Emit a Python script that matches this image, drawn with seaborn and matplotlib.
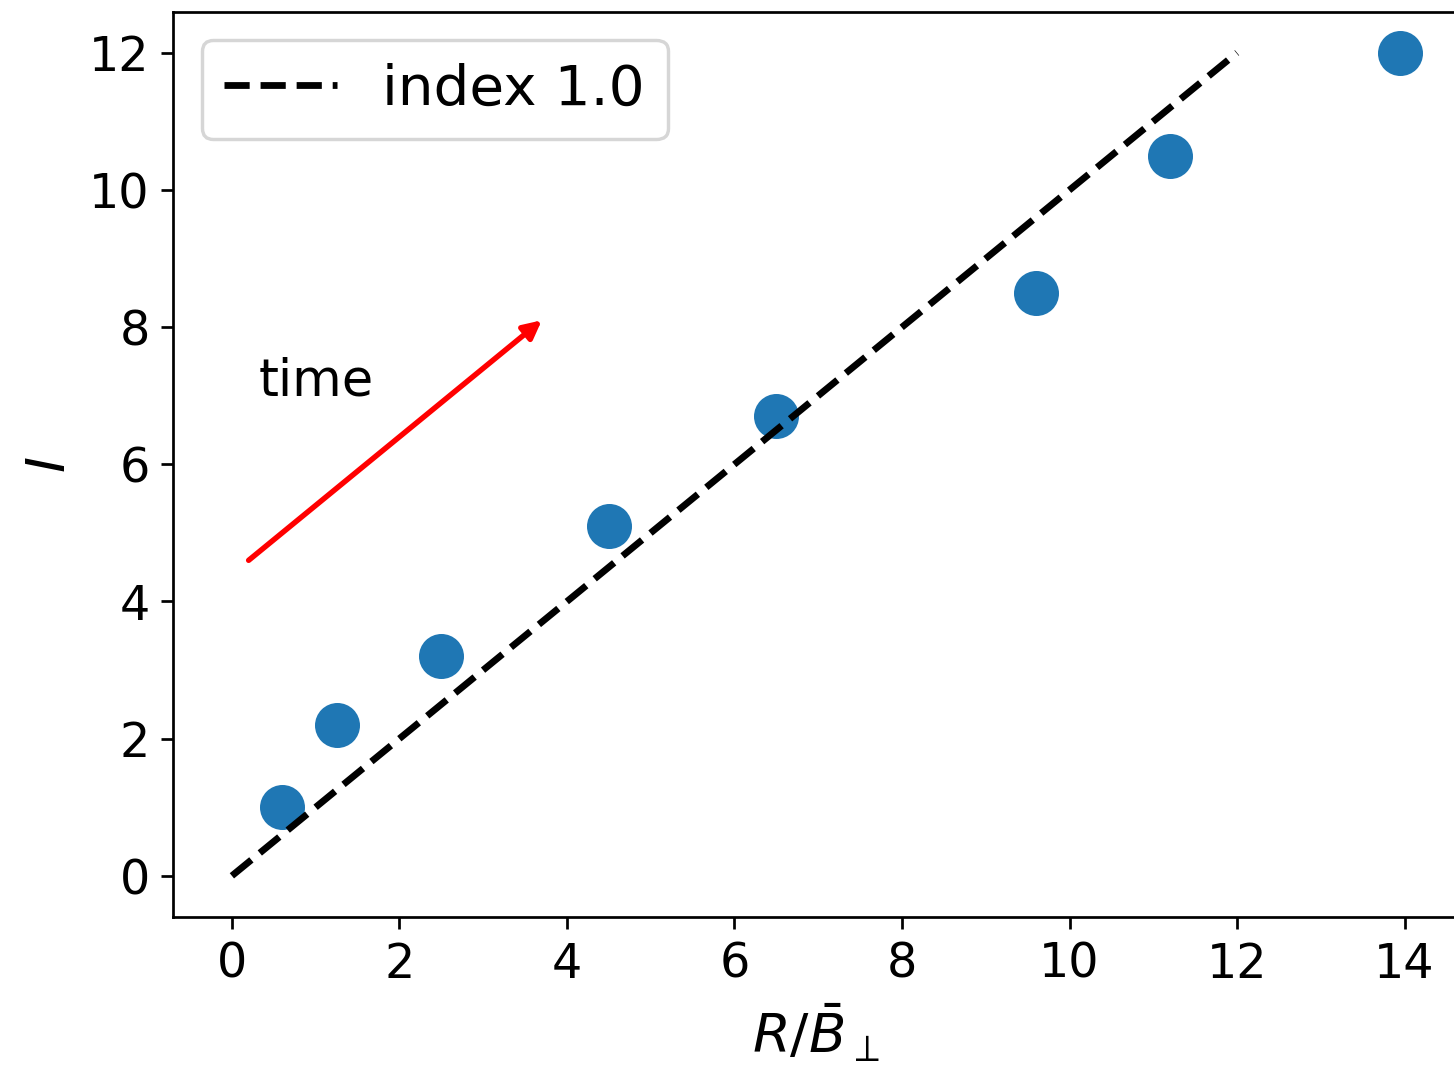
import numpy as np
import pandas as pd
import matplotlib
matplotlib.use("Agg")
import matplotlib.pyplot as plt
import seaborn as sns

# Measured points
r_over_b = [0.6, 1.25, 2.5, 4.5, 6.5, 9.6, 11.2, 13.95]
current = [1.0, 2.2, 3.2, 5.1, 6.7, 8.5, 10.5, 12.0]

# Reference power law with index 1.0
ref_x = [0.0, 12.0]
ref_y = [0.0, 12.0]
ref_label = "index 1.0"

# Time arrow (start, end) and its caption
arrow_start = (0.2, 4.6)
arrow_end = (3.7, 8.1)
time_text = "time"
time_pos = (0.32, 7.0)

plt.rcParams["font.family"] = ["DejaVu Sans"]

DPI = 245
fig = plt.figure(figsize=(1454 / DPI, 1066 / DPI), dpi=DPI)
ax = fig.add_axes([0.1193, 0.1398, 0.884, 0.8493])

points = pd.DataFrame({"x": r_over_b, "y": current})
ref = pd.DataFrame({"x": ref_x, "y": ref_y})

sns.scatterplot(data=points, x="x", y="y", ax=ax, s=175, color="#1f77b4",
                linewidth=0, zorder=2)
sns.lineplot(data=ref, x="x", y="y", ax=ax, color="black", linestyle="--",
             linewidth=2.0, label=ref_label, zorder=3)

ax.annotate("", xy=arrow_end, xytext=arrow_start,
            arrowprops=dict(arrowstyle="-|>", color="red", lw=1.6,
                            mutation_scale=11, shrinkA=0, shrinkB=0))
ax.text(time_pos[0], time_pos[1], time_text, fontsize=15)

ax.set_xlim(-0.6975, 14.6475)
ax.set_ylim(-0.6, 12.6)
ax.set_xticks([0, 2, 4, 6, 8, 10, 12, 14])
ax.set_yticks([0, 2, 4, 6, 8, 10, 12])
ax.tick_params(labelsize=14)

ax.set_xlabel(r"$R/\bar{B}_\perp$", fontsize=16)
ax.set_ylabel(r"$I$", fontsize=16)

ax.legend(loc="upper left", fontsize=16.6)

fig.savefig("out.png", dpi=DPI)
